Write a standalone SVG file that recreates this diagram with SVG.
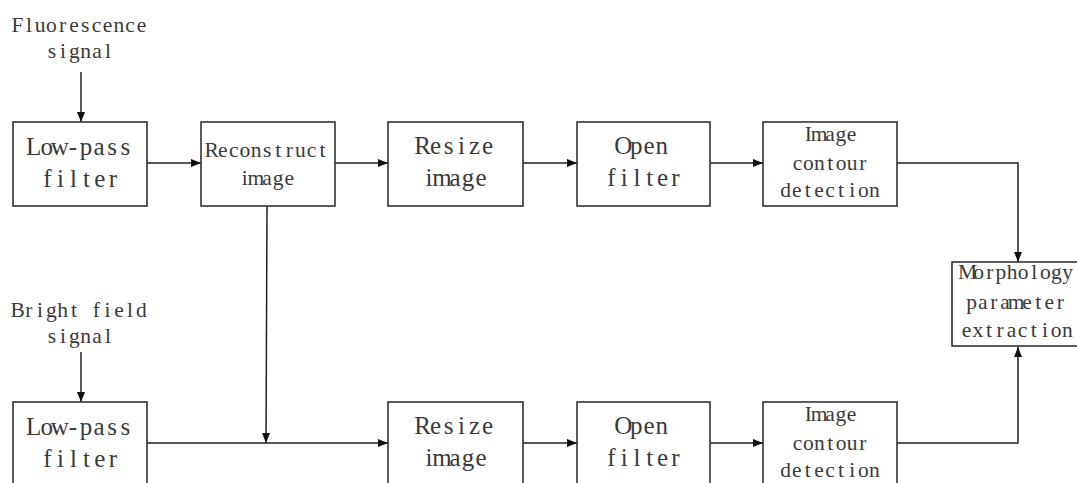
<svg xmlns="http://www.w3.org/2000/svg" width="1077" height="483" viewBox="0 0 1077 483">
<defs>
<marker id="ah" markerWidth="10" markerHeight="8" refX="10" refY="4" orient="auto" markerUnits="userSpaceOnUse">
<path d="M0,0 L10,4 L0,8 Z" fill="#111"/>
</marker>
<style>
.box{fill:#fff;stroke:#333;stroke-width:1.6}
.ln{fill:none;stroke:#222;stroke-width:1.5}
.t{font-family:"Liberation Serif","Times New Roman",serif;fill:#3a3a3a;text-anchor:middle}
.b{font-size:25px}
.s{font-size:21.5px}
</style>
</defs>
<rect width="1077" height="483" fill="#fff"/>

<g id="connectors">
<path class="ln" d="M81,72 V122" marker-end="url(#ah)"/>
<path class="ln" d="M147,163 H201" marker-end="url(#ah)"/>
<path class="ln" d="M335,163 H388" marker-end="url(#ah)"/>
<path class="ln" d="M523,163 H577" marker-end="url(#ah)"/>
<path class="ln" d="M710,163 H763" marker-end="url(#ah)"/>
<path class="ln" d="M897,163 H1018 V262" marker-end="url(#ah)"/>
<path class="ln" d="M81,352 V402" marker-end="url(#ah)"/>
<path class="ln" d="M267,206 L266,443" marker-end="url(#ah)"/>
<path class="ln" d="M147,443 H388" marker-end="url(#ah)"/>
<path class="ln" d="M523,443 H577" marker-end="url(#ah)"/>
<path class="ln" d="M710,443 H763" marker-end="url(#ah)"/>
<path class="ln" d="M897,443 H1018 V347" marker-end="url(#ah)"/>
</g>

<g id="label-fluorescence">
<text class="t s" x="17.6 28.9 40.1 51.4 62.6 73.9 85.1 96.4 107.6 118.9 130.1 141.4" y="32">Fluorescence</text>
<text class="t s" x="51.9 63.1 74.4 85.6 96.9 108.1" y="58">signal</text>
</g>
<g id="label-bright">
<text class="t s" x="17.6 28.9 40.1 51.4 62.6 73.9 85.1 96.4 107.6 118.9 130.1 141.4" y="317">Bright field</text>
<text class="t s" x="51.9 63.1 74.4 85.6 96.9 108.1" y="343">signal</text>
</g>

<g id="lowpass1">
<rect class="box" x="13" y="122" width="134" height="84"/>
<text class="t b" x="33.6 46.7 59.8 72.9 86.0 99.1 112.2 125.3" y="155">Low-pass</text>
<text class="t b" x="47.3 60.4 73.5 86.6 99.7 112.8" y="187">filter</text>
</g>
<g id="reconstruct">
<rect class="box" x="201" y="122" width="134" height="84"/>
<text class="t s" x="211.6 222.7 233.8 244.9 256.0 267.1 278.2 289.3 300.4 311.5 322.6" y="157">Reconstruct</text>
<text class="t s" x="244.8 255.9 267 278.1 289.2" y="185">image</text>
</g>
<g id="resize1">
<rect class="box" x="388" y="122" width="135" height="84"/>
<text class="t b" x="422.5 435.5 448.5 461.5 474.5 487.5" y="154">Resize</text>
<text class="t b" x="429 442 455 468 481" y="186">image</text>
</g>
<g id="open1">
<rect class="box" x="577" y="122" width="133" height="84"/>
<text class="t b" x="623.4 636.2 649.0 661.8" y="154">Open</text>
<text class="t b" x="611.4 624.2 637.0 649.8 662.6 675.4" y="186">filter</text>
</g>
<g id="contour1">
<rect class="box" x="763" y="122" width="134" height="84"/>
<text class="t s" x="808.4 819.2 830 840.8 851.6" y="141">Image</text>
<text class="t s" x="797.5 808.4 819.3 830.2 841.1 852 862.9" y="170">contour</text>
<text class="t s" x="785.6 796.7 807.8 818.9 830 841.1 852.2 863.3 874.4" y="197">detection</text>
</g>
<g id="morphology">
<rect class="box" x="952" y="262" width="130" height="84"/>
<text class="t s" x="967.6 978.7 989.8 1000.9 1012 1023.1 1034.2 1045.3 1056.4 1067.5" y="279">Morphology</text>
<text class="t s" x="971.6 982.7 993.8 1004.9 1016 1027.1 1038.2 1049.3 1060.4" y="309">parameter</text>
<text class="t s" x="966.6 977.8 989 1000.2 1011.4 1022.6 1033.8 1045 1056.2 1067.4" y="337">extraction</text>
</g>

<g id="lowpass2">
<rect class="box" x="13" y="402" width="134" height="90"/>
<text class="t b" x="33.6 46.7 59.8 72.9 86.0 99.1 112.2 125.3" y="435">Low-pass</text>
<text class="t b" x="47.3 60.4 73.5 86.6 99.7 112.8" y="467">filter</text>
</g>
<g id="resize2">
<rect class="box" x="388" y="402" width="135" height="90"/>
<text class="t b" x="422.5 435.5 448.5 461.5 474.5 487.5" y="434">Resize</text>
<text class="t b" x="429 442 455 468 481" y="466">image</text>
</g>
<g id="open2">
<rect class="box" x="577" y="402" width="133" height="90"/>
<text class="t b" x="623.4 636.2 649.0 661.8" y="434">Open</text>
<text class="t b" x="611.4 624.2 637.0 649.8 662.6 675.4" y="466">filter</text>
</g>
<g id="contour2">
<rect class="box" x="763" y="402" width="134" height="90"/>
<text class="t s" x="808.4 819.2 830 840.8 851.6" y="421">Image</text>
<text class="t s" x="797.5 808.4 819.3 830.2 841.1 852 862.9" y="450">contour</text>
<text class="t s" x="785.6 796.7 807.8 818.9 830 841.1 852.2 863.3 874.4" y="477">detection</text>
</g>
</svg>
